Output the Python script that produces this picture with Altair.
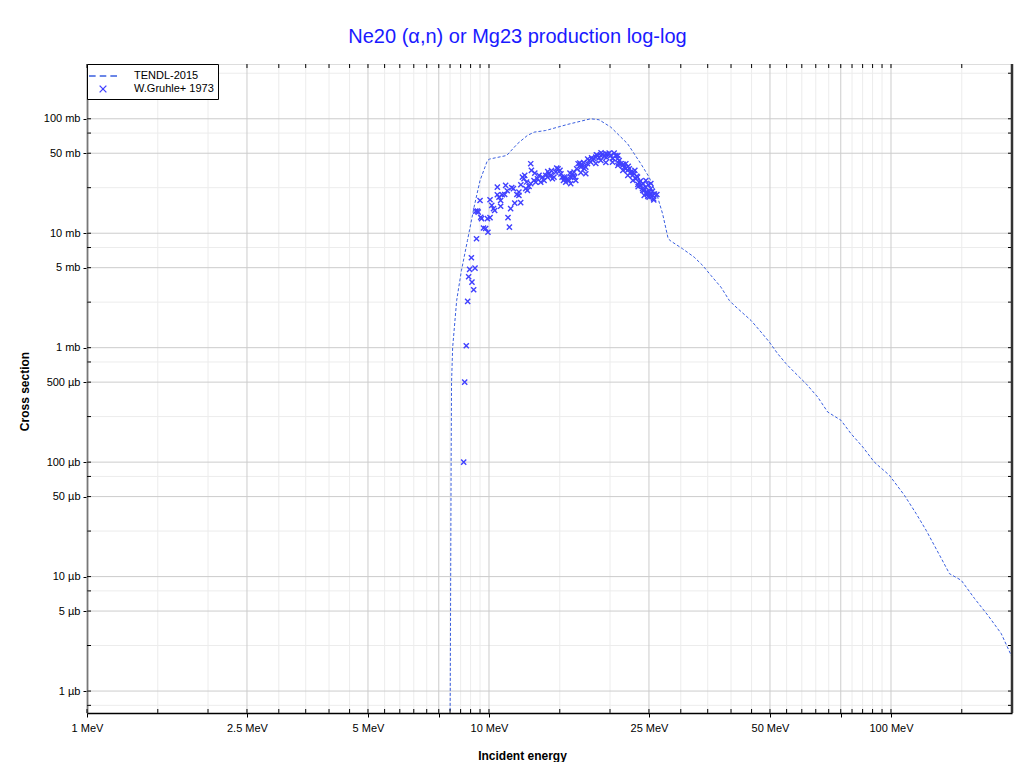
import altair as alt
import pandas as pd

TITLE = "Ne20 (α,n) or Mg23 production log-log"
SERIES = ["TENDL-2015", "W.Gruhle+ 1973"]

# TENDL-2015 evaluated curve: incident energy (MeV), cross section (mb)
tendl_energy = [7.99, 8.01, 8.03, 8.05, 8.07, 8.12, 8.31, 8.54, 8.84, 9.18, 9.50, 9.91, 10.04,
                11.07, 11.77, 12.46, 12.95, 13.84, 15.67, 17.91, 18.79, 20.09, 22.12, 23.87,
                25.02, 26.27, 27.03, 27.91, 28.35, 30.30, 32.39, 34.0, 35.65, 37.76, 39.60,
                40.74, 44.85, 47.50, 49.81, 52.26, 54.81, 57.47, 61.46, 65.73, 69.60, 75.1,
                79.56, 85.1, 90.9, 99.1, 108.0, 115.5, 122.3, 130.8, 139.8, 149.5, 161.4,
                174.2, 188.0, 199.1, 200.0]
tendl_xs = [3e-4, 1e-3, 0.01, 0.1, 0.5, 1.0, 2.59, 4.73, 8.65, 16.9, 28.9, 43.2, 44.5,
            47.8, 60.5, 71.5, 76.4, 79.0, 89.2, 100.0, 98.0, 84.5, 60.5, 40.4,
            30.9, 20.7, 14.8, 8.95, 8.53, 7.32, 6.18, 5.23, 4.28, 3.38, 2.59,
            2.34, 1.73, 1.37, 1.12, 0.886, 0.725, 0.612, 0.485, 0.370, 0.274, 0.232,
            0.177, 0.1355, 0.100, 0.0767, 0.0513, 0.0355, 0.0254, 0.0164, 0.0106, 0.00929, 0.00643,
            0.00459, 0.00318, 0.00205, 0.00195]

# W.Gruhle+ 1973 measurements: incident energy (MeV), cross section (mb)
exfor_energy = [8.65, 8.70, 8.78, 8.85, 9.16, 9.07, 8.90, 8.95, 9.23, 9.04, 9.31,
                9.50, 9.36, 9.54, 9.58, 9.69, 9.81, 9.94, 9.91, 10.06, 10.06, 10.16, 10.26, 10.33,
                10.49, 10.49, 10.59, 10.69, 10.69, 10.79, 10.94, 11.00, 11.15, 11.24, 11.32, 11.39,
                11.50, 11.59, 11.73, 11.87, 11.99, 11.87, 12.11, 12.22, 12.27, 12.34, 12.46, 12.58,
                12.70, 12.75, 12.70, 12.94, 13.07, 13.20, 13.32, 13.45, 13.58, 13.71, 13.84, 13.98,
                14.10, 14.24, 14.38, 14.51, 14.66, 14.74, 14.85, 15.02, 15.20, 15.32, 15.43, 15.52,
                15.67, 15.82, 15.97, 16.13, 16.28, 16.34, 16.53, 16.66, 16.82, 16.92, 17.08, 17.25,
                17.41, 17.58, 17.74, 17.91, 18.09, 18.26, 18.44, 18.62, 18.79, 18.97, 19.16, 19.34,
                19.53, 19.72, 19.90, 20.09, 20.29, 20.48, 20.68, 20.88, 21.08, 21.28, 21.49, 21.70,
                21.90, 22.11, 22.33, 22.54, 22.76, 22.97, 23.19, 23.41, 23.64, 23.86, 24.09, 24.33,
                24.56, 24.80, 25.03, 25.27, 25.51, 25.66, 25.03, 24.33,
                14.0, 14.3, 15.1, 15.9, 16.2, 16.9, 17.2, 17.6, 18.0, 18.5, 19.0, 19.6, 20.3, 21.0,
                21.6, 22.2, 22.8, 23.3, 23.8, 24.2, 24.7, 25.3, 25.5, 24.9, 25.8, 23.5, 13.0, 12.4,
                12.0, 11.1, 9.27, 9.40,
                18.44, 18.97, 19.53, 20.33, 20.92, 21.53, 22.15, 22.8, 23.46, 24.14, 24.84, 25.7,
                26.16, 25.27, 24.56, 23.06, 21.90, 20.92, 16.92, 17.41, 15.97, 16.44, 15.4]
exfor_xs = [0.1, 0.5, 1.04, 2.54, 3.21, 3.74, 4.17, 4.83, 4.96, 6.11, 8.95,
            19.3, 15.6, 13.8, 13.4, 11.1, 11.0, 10.2, 13.4, 13.7, 19.6, 17.5, 16.4, 15.8,
            25.3, 21.7, 20.7, 19.3, 17.2, 21.7, 21.8, 26.2, 13.7, 11.3, 16.4, 25.0,
            24.5, 18.3, 21.8, 21.4, 18.5, 22.9, 30.9, 29.9, 32.0, 24.5, 23.7, 25.7,
            40.5, 35.4, 27.1, 28.9, 27.9, 29.9, 32.0, 27.9, 30.9, 28.9, 32.0, 30.9,
            33.1, 32.0, 29.9, 30.9, 34.2, 37.1, 36.6, 35.4, 30.9, 28.9, 29.9, 27.9,
            29.9, 28.9, 30.9, 33.1, 34.2, 30.9, 36.6, 40.5, 41.0, 37.8, 39.1, 36.6,
            37.8, 40.5, 43.2, 41.8, 44.0, 44.7, 46.2, 47.8, 45.7, 47.8, 48.8, 46.9,
            49.5, 48.8, 50.1, 47.8, 41.8, 50.1, 47.8, 44.7, 43.2, 40.5, 39.1, 37.8,
            36.6, 35.4, 36.6, 34.2, 32.0, 33.1, 29.9, 30.9, 27.9, 26.2, 24.5, 23.7,
            25.3, 22.2, 22.9, 24.5, 21.4, 20.0, 20.7, 21.4,
            34.5, 35.2, 33.0, 33.5, 31.5, 39.5, 41.5, 44.5, 45.5, 48.5, 50.5, 46.0, 45.0, 41.0,
            40.0, 38.5, 34.0, 31.5, 28.5, 27.0, 23.0, 21.8, 23.2, 26.5, 22.0, 25.5, 33.5, 28.0,
            26.5, 23.5, 15.6, 15.3,
            40.7, 43.2, 41.5, 45.0, 39.1, 35.4, 32.0, 28.9, 26.7, 23.7, 21.0, 19.5,
            21.8, 27.2, 28.9, 35.4, 40.5, 47.8, 33.8, 33.1, 27.1, 28.9, 31.0]

# axis ticks / grid values
x_major = [1, 2.5, 5, 7.5, 10, 25, 50, 75, 100]
x_minor = [1.5, 2, 3, 3.5, 4, 4.5, 5.5, 6, 6.5, 7, 8, 8.5, 9, 9.5, 15, 20,
           30, 35, 40, 45, 55, 60, 65, 70, 80, 85, 90, 95, 150]
y_major = [0.001, 0.005, 0.01, 0.05, 0.1, 0.5, 1, 5, 10, 50, 100]
y_minor = [0.00075, 0.0025, 0.0075, 0.025, 0.075, 0.25, 0.75, 2.5, 7.5, 25, 75, 250]
x_domain = [1, 200]
y_domain = [6.43e-4, 301]

W, H = 925, 649
FONT = "Liberation Sans"
LINE_COLOR = "#3a5fe0"
POINT_COLOR = "#4040ff"
TITLE_COLOR = "#1a1aff"
DASH_PATH = "M-2,0L-1.05,0M-0.47,0L0.47,0M1.05,0L2,0"
X_PATH = "M-0.48,-0.48L0.48,0.48M-0.48,0.48L0.48,-0.48"

tendl_df = pd.DataFrame({"E": tendl_energy, "xs": tendl_xs, "series": SERIES[0]})
exfor_df = pd.DataFrame({"E": exfor_energy, "xs": exfor_xs, "series": SERIES[1]})
xmaj_df = pd.DataFrame({"E": x_major})
xmin_df = pd.DataFrame({"E": x_minor})
ymaj_df = pd.DataFrame({"xs": y_major})
ymin_df = pd.DataFrame({"xs": y_minor})
xall_df = pd.DataFrame({"E": x_major + x_minor})
yall_df = pd.DataFrame({"xs": y_major + y_minor})
one_df = pd.DataFrame({"a": [0]})

xs = alt.Scale(type="log", domain=x_domain, nice=False)
ys = alt.Scale(type="log", domain=y_domain, nice=False)

x_axis = alt.Axis(
    values=x_major,
    labelExpr="(datum.value == 7.5 || datum.value == 75) ? '' : datum.value + ' MeV'",
    grid=False, tickSize=4, tickColor="black", tickWidth=1,
    domainColor="black", domainWidth=1.5,
    labelFont=FONT, labelFontSize=11, labelColor="black", labelPadding=5,
    labelFlush=False, labelOverlap=False,
    title="Incident energy", titleFont=FONT, titleFontSize=12, titleFontWeight="bold",
    titleColor="black", titleX=435, titleY=42, titleBaseline="middle", titleAlign="center",
)
y_axis = alt.Axis(
    values=y_major,
    labelExpr="datum.value >= 1 ? format(datum.value, 'd') + ' mb' : format(datum.value * 1000, 'd') + ' µb'",
    grid=False, tickSize=4, tickColor="black", tickWidth=1,
    domainColor="#222222", domainWidth=1.5,
    labelFont=FONT, labelFontSize=11, labelColor="black", labelPadding=3,
    labelFlush=False, labelOverlap=False,
    title="Cross section", titleFont=FONT, titleFontSize=12, titleFontWeight="bold",
    titleColor="black", titleX=-63, titleY=327, titleBaseline="middle", titleAlign="center",
    titleAngle=270,
)


def xenc():
    return alt.X("E:Q", scale=xs, axis=x_axis)


def yenc():
    return alt.Y("xs:Q", scale=ys, axis=y_axis)


grid_minor_x = alt.Chart(xmin_df).mark_rule(color="#ececec", strokeWidth=1).encode(x=xenc())
grid_minor_y = alt.Chart(ymin_df).mark_rule(color="#ececec", strokeWidth=1).encode(y=yenc())
grid_major_x = alt.Chart(xmaj_df).mark_rule(color="#cccccc", strokeWidth=1).encode(x=xenc())
grid_major_y = alt.Chart(ymaj_df).mark_rule(color="#cccccc", strokeWidth=1).encode(y=yenc())

line = alt.Chart(tendl_df).mark_line(
    color=LINE_COLOR, strokeDash=[3, 2], strokeWidth=1, clip=True
).encode(x=xenc(), y=yenc())

leg = alt.Legend(
    title=None, orient="none", legendX=0, legendY=0, padding=4, rowPadding=0,
    symbolSize=196, symbolStrokeWidth=1.3, symbolOffset=4, labelOffset=23,
    labelFont=FONT, labelFontSize=11, labelColor="black",
    strokeColor="black", fillColor="white", labelLimit=300,
)

points = alt.Chart(exfor_df).mark_point(
    filled=False, size=115, strokeWidth=1.4, opacity=1
).encode(
    x=xenc(),
    y=yenc(),
    color=alt.Color("series:N", scale=alt.Scale(domain=SERIES, range=[LINE_COLOR, POINT_COLOR]), legend=leg),
    shape=alt.Shape("series:N", scale=alt.Scale(domain=SERIES, range=[DASH_PATH, X_PATH]), legend=leg),
)

tick_bottom = alt.Chart(xall_df).mark_rule(color="black", strokeWidth=1).encode(
    x=xenc(), y=alt.value(H - 4), y2=alt.value(H))
tick_top = alt.Chart(xall_df).mark_rule(color="black", strokeWidth=1).encode(
    x=xenc(), y=alt.value(0), y2=alt.value(4))
tick_left = alt.Chart(yall_df).mark_rule(color="black", strokeWidth=1).encode(
    y=yenc(), x=alt.value(0), x2=alt.value(4))
tick_right = alt.Chart(yall_df).mark_rule(color="black", strokeWidth=1).encode(
    y=yenc(), x=alt.value(W - 4), x2=alt.value(W))
right_edge = alt.Chart(one_df).mark_rule(color="#333333", strokeWidth=2.5).encode(
    x=alt.value(W), y=alt.value(0), y2=alt.value(H))

chart = alt.layer(
    grid_minor_x, grid_minor_y, grid_major_x, grid_major_y,
    line, points,
    tick_bottom, tick_top, tick_left, tick_right, right_edge,
).properties(
    width=W, height=H,
    title=alt.TitleParams(TITLE, fontSize=20, font=FONT, fontWeight="normal",
                          color=TITLE_COLOR, anchor="middle", dx=-32, offset=16),
    padding={"left": 79, "top": 56, "right": 2, "bottom": 49},
    autosize=alt.AutoSizeParams(type="none"),
).configure_view(stroke="black", strokeWidth=1).configure(background="white")

chart.save("out.html", embed_options={"renderer": "svg", "actions": False})
